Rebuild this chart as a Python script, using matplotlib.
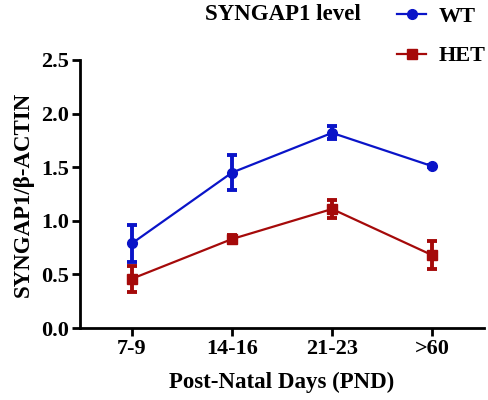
import matplotlib
matplotlib.use("Agg")
import matplotlib.pyplot as plt
import numpy as np

# 数据
groups = ["7-9", "14-16", "21-23", ">60"]
wt_mean = [0.79, 1.45, 1.82, 1.51]
wt_err = [0.17, 0.16, 0.06, 0.01]
het_mean = [0.46, 0.83, 1.11, 0.68]
het_err = [0.12, 0.04, 0.08, 0.13]

WT_COLOR = "#0A14C8"
HET_COLOR = "#A50A0A"

plt.rcParams["font.family"] = ["Liberation Serif", "DejaVu Serif"]
plt.rcParams["font.weight"] = "bold"

fig = plt.figure(figsize=(4.88, 4.0), dpi=100)
ax = fig.add_axes([0.164, 0.18, 0.828, 0.67])

x = np.arange(len(groups))
ax.errorbar(x, wt_mean, yerr=wt_err, color=WT_COLOR, marker="o", markersize=7,
            linewidth=1.6, elinewidth=2.8, capsize=3.5, capthick=2.8, label="WT")
ax.errorbar(x, het_mean, yerr=het_err, color=HET_COLOR, marker="s", markersize=6.5,
            linewidth=1.6, elinewidth=2.8, capsize=3.5, capthick=2.8, label="HET")

ax.set_xlim(-0.52, 3.52)
ax.set_ylim(0, 2.5)
ax.set_yticks(np.arange(0, 2.51, 0.5))
ax.set_yticklabels([f"{v:.1f}" for v in np.arange(0, 2.51, 0.5)])
ax.set_xticks(x)
ax.set_xticklabels(groups)

for side in ["top", "right"]:
    ax.spines[side].set_visible(False)
for side in ["left", "bottom"]:
    ax.spines[side].set_linewidth(2)
ax.tick_params(width=2, length=6, labelsize=16, pad=2)
for lbl in ax.get_xticklabels() + ax.get_yticklabels():
    lbl.set_fontweight("bold")

ax.set_xlabel("Post-Natal Days (PND)", fontsize=16.5, fontweight="bold", labelpad=9)
ax.set_ylabel("SYNGAP1/β-ACTIN", fontsize=16.5, fontweight="bold", labelpad=5)

handles, labels = ax.get_legend_handles_labels()
handles = [h[0] for h in handles]
fig.legend(handles, labels, loc="upper left", bbox_to_anchor=(0.805, 0.995),
           frameon=False, prop={"size": 16, "weight": "bold"},
           handlelength=1.3, labelspacing=0.85, handletextpad=0.55,
           borderpad=0.2, borderaxespad=0.0)
fig.text(0.42, 0.9625, "SYNGAP1 level", fontsize=16.5, fontweight="bold", va="center")

fig.savefig("out.png", dpi=100)
